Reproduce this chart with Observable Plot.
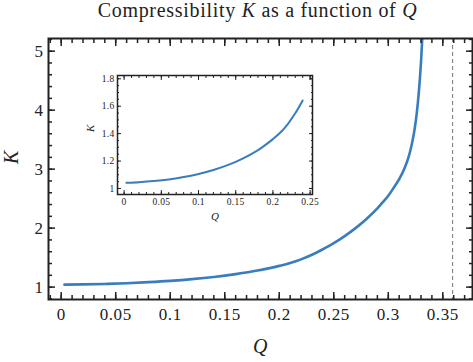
<!DOCTYPE html>
<html><head><meta charset="utf-8">
<script src="https://cdn.jsdelivr.net/npm/d3@7"></script>
<script src="https://cdn.jsdelivr.net/npm/@observablehq/plot@0.6"></script>
<style>
body{margin:0;background:#fff;}
#wrap{position:relative;width:473px;height:362px;font-family:"Liberation Serif",serif;color:#222;}
#title{height:30px;line-height:21px;text-align:center;font-size:20px;letter-spacing:0.7px;padding-left:42px;box-sizing:border-box;white-space:nowrap;}
#inset{position:absolute;left:80px;top:60px;}
svg{display:block;}
</style></head><body>
<div id="wrap"><div id="title">Compressibility <i>K</i> as a function of <i>Q</i></div><div id="main"></div><div id="inset"></div></div>
<script>
const Q = [0.003, 0.02, 0.04, 0.06, 0.08, 0.10, 0.12, 0.14, 0.16, 0.18, 0.19, 0.20, 0.21, 0.22, 0.23, 0.24, 0.25, 0.26, 0.27, 0.28, 0.29, 0.295, 0.30, 0.305, 0.31, 0.315, 0.318, 0.32, 0.322, 0.324, 0.326, 0.328, 0.330, 0.332, 0.334];
const K = [1.042, 1.046, 1.054, 1.066, 1.084, 1.106, 1.135, 1.172, 1.22, 1.28, 1.318, 1.36, 1.408, 1.47, 1.548, 1.642, 1.745, 1.865, 2.0, 2.155, 2.335, 2.44, 2.55, 2.685, 2.83, 3.02, 3.17, 3.3, 3.46, 3.66, 3.93, 4.3, 4.81, 5.5, 6.4];
const criticalQ = 0.359;
const insetMaxQ = 0.242;
const mainXTicks = [0, 0.05, 0.1, 0.15, 0.2, 0.25, 0.3, 0.35];
const mainYTicks = [1, 2, 3, 4, 5];
const insetXTicks = [0, 0.05, 0.1, 0.15, 0.2, 0.25];
const insetYTicks = [1, 1.2, 1.4, 1.6, 1.8];

const data = Q.map((q, i) => ({Q: q, K: K[i]}));
const insetData = data.filter(d => d.Q <= insetMaxQ);
const color = "#3a7dbf";
const ink = "#222";
const range = (a, b, s) => d3.range(Math.round(a / s), Math.round(b / s) + 1).map(i => +(i * s).toFixed(4));

function tickMarks(xs, ys, xMinor, yMinor, major, minor, sw) {
  const m = [];
  for (const anchor of ["bottom", "top"]) {
    m.push(Plot.axisX(xs, {anchor, tickSize: -major, fill: "none", stroke: ink, strokeWidth: sw, label: null}));
    m.push(Plot.axisX(xMinor, {anchor, tickSize: -minor, fill: "none", stroke: ink, strokeWidth: sw, label: null}));
  }
  for (const anchor of ["left", "right"]) {
    m.push(Plot.axisY(ys, {anchor, tickSize: -major, fill: "none", stroke: ink, strokeWidth: sw, label: null}));
    m.push(Plot.axisY(yMinor, {anchor, tickSize: -minor, fill: "none", stroke: ink, strokeWidth: sw, label: null}));
  }
  return m;
}

const main = Plot.plot({
  width: 473, height: 332,
  marginLeft: 48, marginRight: 1, marginTop: 8, marginBottom: 63,
  style: {fontFamily: "Liberation Serif, serif", color: ink, background: "transparent", letterSpacing: "0.6px"},
  x: {domain: [-0.01165, 0.37724]},
  y: {domain: [0.79, 5.215]},
  marks: [
    Plot.ruleX([criticalQ], {stroke: "#777", strokeWidth: 1, strokeDasharray: "4,3"}),
    Plot.line(data, {x: "Q", y: "K", stroke: color, strokeWidth: 2.6, clip: true, curve: "monotone-x"}),
    ...tickMarks(mainXTicks, mainYTicks, range(-0.01, 0.37, 0.01), range(0.8, 5.2, 0.2), 7, 4, 1.5),
    Plot.axisX(mainXTicks, {anchor: "bottom", tickSize: 0, tickPadding: 8, fontSize: 17, tickFormat: d => String(d), label: null, fill: ink}),
    Plot.axisY(mainYTicks, {anchor: "left", tickSize: 0, tickPadding: 5, fontSize: 17, tickFormat: d => String(d), label: null, fill: ink}),
    Plot.text(["Q"], {frameAnchor: "bottom", dy: 53, fontSize: 20, fontStyle: "italic", fill: ink}),
    Plot.text(["K"], {frameAnchor: "left", dx: -37, dy: -5, rotate: -90, fontSize: 20, fontStyle: "italic", fill: ink}),
    Plot.frame({stroke: ink, strokeWidth: 2})
  ]
});
document.getElementById("main").append(main);

const inset = Plot.plot({
  width: 250, height: 170,
  marginLeft: 37, marginRight: 18, marginTop: 15, marginBottom: 36,
  style: {fontFamily: "Liberation Serif, serif", color: ink, background: "#fff", letterSpacing: "0.3px"},
  x: {domain: [-0.0089, 0.2532]},
  y: {domain: [0.956, 1.824]},
  marks: [
    Plot.line(insetData, {x: "Q", y: "K", stroke: color, strokeWidth: 2, clip: true, curve: "monotone-x"}),
    ...tickMarks(insetXTicks, insetYTicks, range(0, 0.25, 0.01), range(1, 1.8, 0.05), 4, 2, 1),
    Plot.axisX(insetXTicks, {anchor: "bottom", tickSize: 0, tickPadding: 4, fontSize: 9.5, tickFormat: d => String(d), label: null, fill: ink}),
    Plot.axisY(insetYTicks, {anchor: "left", tickSize: 0, tickPadding: 3, fontSize: 9.5, tickFormat: d => String(d), label: null, fill: ink}),
    Plot.text(["Q"], {frameAnchor: "bottom", dy: 25, fontSize: 11, fontStyle: "italic", fill: ink}),
    Plot.text(["K"], {frameAnchor: "left", dx: -27, dy: -3, rotate: -90, fontSize: 11, fontStyle: "italic", fill: ink}),
    Plot.frame({stroke: ink, strokeWidth: 1.5})
  ]
});
document.getElementById("inset").append(inset);
</script>
</body></html>
